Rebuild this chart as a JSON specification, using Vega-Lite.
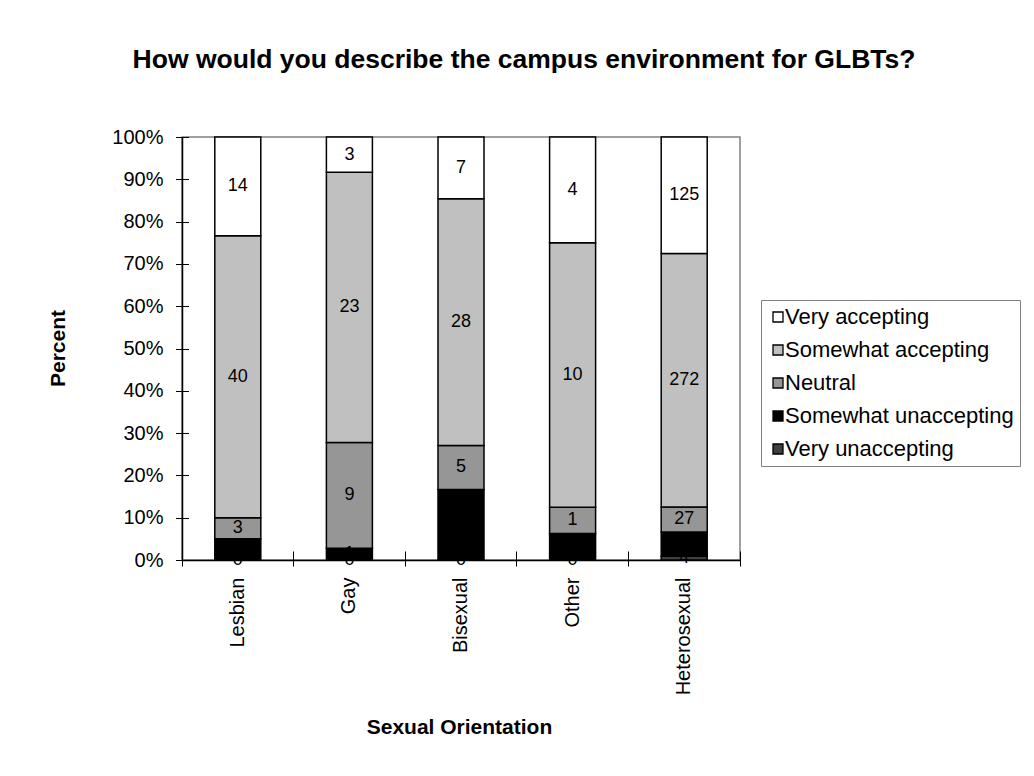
{
  "$schema": "https://vega.github.io/schema/vega-lite/v6.json",
  "autosize": {"type": "none"},
  "padding": {"left": 182, "top": 137, "right": 294, "bottom": 216},
  "width": 558,
  "height": 423,
  "background": "white",
  "title": {
    "text": "How would you describe the campus environment for GLBTs?",
    "anchor": "middle",
    "frame": "group",
    "dx": 63,
    "offset": 54,
    "fontSize": 26.5,
    "fontWeight": "bold",
    "font": "Liberation Sans",
    "color": "black"
  },
  "data": {
    "values": [
      {"orientation": "Lesbian", "response": "Very accepting", "level": 5, "count": 14},
      {"orientation": "Lesbian", "response": "Somewhat accepting", "level": 4, "count": 40},
      {"orientation": "Lesbian", "response": "Neutral", "level": 3, "count": 3},
      {"orientation": "Lesbian", "response": "Somewhat unaccepting", "level": 2, "count": 3},
      {"orientation": "Lesbian", "response": "Very unaccepting", "level": 1, "count": 0},
      {"orientation": "Gay", "response": "Very accepting", "level": 5, "count": 3},
      {"orientation": "Gay", "response": "Somewhat accepting", "level": 4, "count": 23},
      {"orientation": "Gay", "response": "Neutral", "level": 3, "count": 9},
      {"orientation": "Gay", "response": "Somewhat unaccepting", "level": 2, "count": 1},
      {"orientation": "Gay", "response": "Very unaccepting", "level": 1, "count": 0},
      {"orientation": "Bisexual", "response": "Very accepting", "level": 5, "count": 7},
      {"orientation": "Bisexual", "response": "Somewhat accepting", "level": 4, "count": 28},
      {"orientation": "Bisexual", "response": "Neutral", "level": 3, "count": 5},
      {"orientation": "Bisexual", "response": "Somewhat unaccepting", "level": 2, "count": 8},
      {"orientation": "Bisexual", "response": "Very unaccepting", "level": 1, "count": 0},
      {"orientation": "Other", "response": "Very accepting", "level": 5, "count": 4},
      {"orientation": "Other", "response": "Somewhat accepting", "level": 4, "count": 10},
      {"orientation": "Other", "response": "Neutral", "level": 3, "count": 1},
      {"orientation": "Other", "response": "Somewhat unaccepting", "level": 2, "count": 1},
      {"orientation": "Other", "response": "Very unaccepting", "level": 1, "count": 0},
      {"orientation": "Heterosexual", "response": "Very accepting", "level": 5, "count": 125},
      {"orientation": "Heterosexual", "response": "Somewhat accepting", "level": 4, "count": 272},
      {"orientation": "Heterosexual", "response": "Neutral", "level": 3, "count": 27},
      {"orientation": "Heterosexual", "response": "Somewhat unaccepting", "level": 2, "count": 26},
      {"orientation": "Heterosexual", "response": "Very unaccepting", "level": 1, "count": 4}
    ]
  },
  "transform": [
    {
      "stack": "count",
      "groupby": ["orientation"],
      "sort": [{"field": "level", "order": "ascending"}],
      "offset": "normalize",
      "as": ["y0", "y1"]
    },
    {"calculate": "(datum.y0 + datum.y1) / 2", "as": "mid"}
  ],
  "layer": [
    {
      "mark": {"type": "bar", "size": 46, "stroke": "black", "strokeWidth": 1.5},
      "encoding": {
        "x": {
          "field": "orientation",
          "type": "nominal",
          "sort": ["Lesbian", "Gay", "Bisexual", "Other", "Heterosexual"],
          "scale": {"paddingInner": 0, "paddingOuter": 0},
          "axis": {
            "orient": "bottom",
            "title": "Sexual Orientation",
            "titleFontSize": 21,
            "titleFontWeight": "bold",
            "titleBaseline": "alphabetic",
            "titleY": 173,
            "titleX": 277,
            "ticks": false,
            "tickSize": 0,
            "domain": true,
            "labelAngle": 270,
            "labelAlign": "right",
            "labelBaseline": "middle",
            "labelPadding": 17,
            "labelFontSize": 20
          }
        },
        "y": {
          "field": "y0",
          "type": "quantitative",
          "scale": {"domain": [0, 1], "nice": false},
          "axis": {
            "orient": "left",
            "title": "Percent",
            "titleFontSize": 21,
            "titleFontWeight": "bold",
            "titleAngle": 270,
            "titleAlign": "center",
            "titleBaseline": "alphabetic",
            "titleX": -118,
            "titleY": 211,
            "values": [0, 0.1, 0.2, 0.3, 0.4, 0.5, 0.6, 0.7, 0.8, 0.9, 1],
            "format": ".0%",
            "ticks": false,
            "tickSize": 0,
            "labelPadding": 19,
            "labelFontSize": 20
          }
        },
        "y2": {"field": "y1"},
        "color": {
          "field": "response",
          "type": "nominal",
          "scale": {
            "domain": ["Very accepting", "Somewhat accepting", "Neutral", "Somewhat unaccepting", "Very unaccepting"],
            "range": ["#FFFFFF", "#C0C0C0", "#969696", "#000000", "#404040"]
          },
          "legend": {
            "orient": "none",
            "legendX": 579,
            "legendY": 163,
            "title": null,
            "padding": 6,
            "rowPadding": 11,
            "labelFontSize": 22,
            "labelFont": "Liberation Sans",
            "labelColor": "black",
            "labelLimit": 0,
            "labelOffset": -4,
            "symbolType": "square",
            "symbolSize": 100,
            "symbolStrokeColor": "black",
            "symbolStrokeWidth": 1.3,
            "symbolOpacity": 1,
            "strokeColor": "#808080",
            "fillColor": "white"
          }
        },
        "order": {"field": "level", "type": "quantitative", "sort": "ascending"}
      }
    },
    {
      "mark": {"type": "text", "fontSize": 18, "font": "Liberation Sans", "color": "black", "align": "center", "baseline": "middle"},
      "encoding": {
        "x": {
          "field": "orientation",
          "type": "nominal",
          "sort": ["Lesbian", "Gay", "Bisexual", "Other", "Heterosexual"],
          "axis": {
            "orient": "bottom",
            "title": null,
            "labels": false,
            "domain": false,
            "ticks": true,
            "bandPosition": 1,
            "tickExtra": true,
            "tickSize": 15,
            "offset": -9,
            "tickColor": "black",
            "tickWidth": 1
          }
        },
        "y": {
          "field": "mid",
          "type": "quantitative",
          "scale": {"domain": [0, 1], "nice": false},
          "axis": {
            "orient": "left",
            "title": null,
            "labels": false,
            "domain": false,
            "ticks": true,
            "values": [0, 0.1, 0.2, 0.3, 0.4, 0.5, 0.6, 0.7, 0.8, 0.9, 1],
            "tickSize": 13,
            "offset": -6.5,
            "tickColor": "black",
            "tickWidth": 1
          }
        },
        "text": {"field": "count", "type": "quantitative"}
      }
    }
  ],
  "resolve": {"axis": {"x": "independent", "y": "independent"}},
  "config": {
    "font": "Liberation Sans",
    "view": {"stroke": "#808080", "strokeWidth": 1.5},
    "axis": {
      "grid": false,
      "labelFont": "Liberation Sans",
      "titleFont": "Liberation Sans",
      "labelColor": "black",
      "titleColor": "black",
      "domainColor": "black",
      "domainWidth": 1.5,
      "tickColor": "black"
    }
  }
}
